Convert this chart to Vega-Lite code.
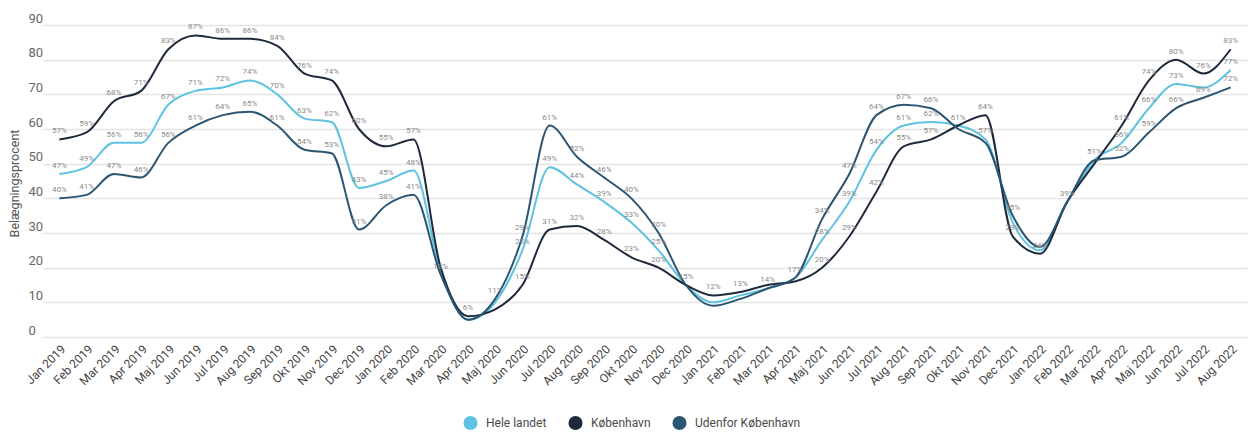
{
  "$schema": "https://vega.github.io/schema/vega-lite/v6.json",
  "width": 1204,
  "height": 312,
  "autosize": "none",
  "padding": {"left": 43, "top": 25, "right": 6, "bottom": 96},
  "config": {
    "view": {"stroke": null},
    "font": "Roboto"
  },
  "data": {
    "values": [
      {"m": "Jan 2019", "Hele landet": 47, "København": 57, "Udenfor København": 40},
      {"m": "Feb 2019", "Hele landet": 49, "København": 59, "Udenfor København": 41},
      {"m": "Mar 2019", "Hele landet": 56, "København": 68, "Udenfor København": 47},
      {"m": "Apr 2019", "Hele landet": 56, "København": 71, "Udenfor København": 46},
      {"m": "Maj 2019", "Hele landet": 67, "København": 83, "Udenfor København": 56},
      {"m": "Jun 2019", "Hele landet": 71, "København": 87, "Udenfor København": 61},
      {"m": "Jul 2019", "Hele landet": 72, "København": 86, "Udenfor København": 64},
      {"m": "Aug 2019", "Hele landet": 74, "København": 86, "Udenfor København": 65},
      {"m": "Sep 2019", "Hele landet": 70, "København": 84, "Udenfor København": 61},
      {"m": "Okt 2019", "Hele landet": 63, "København": 76, "Udenfor København": 54},
      {"m": "Nov 2019", "Hele landet": 62, "København": 74, "Udenfor København": 53},
      {"m": "Dec 2019", "Hele landet": 43, "København": 60, "Udenfor København": 31},
      {"m": "Jan 2020", "Hele landet": 45, "København": 55, "Udenfor København": 38},
      {"m": "Feb 2020", "Hele landet": 48, "København": 57, "Udenfor København": 41},
      {"m": "Mar 2020", "Hele landet": 19, "København": 20, "Udenfor København": 18},
      {"m": "Apr 2020", "Hele landet": 5, "København": 6, "Udenfor København": 5},
      {"m": "Maj 2020", "Hele landet": 10, "København": 8, "Udenfor København": 11},
      {"m": "Jun 2020", "Hele landet": 25, "København": 15, "Udenfor København": 29},
      {"m": "Jul 2020", "Hele landet": 49, "København": 31, "Udenfor København": 61},
      {"m": "Aug 2020", "Hele landet": 44, "København": 32, "Udenfor København": 52},
      {"m": "Sep 2020", "Hele landet": 39, "København": 28, "Udenfor København": 46},
      {"m": "Okt 2020", "Hele landet": 33, "København": 23, "Udenfor København": 40},
      {"m": "Nov 2020", "Hele landet": 25, "København": 20, "Udenfor København": 30},
      {"m": "Dec 2020", "Hele landet": 15, "København": 15, "Udenfor København": 15},
      {"m": "Jan 2021", "Hele landet": 10, "København": 12, "Udenfor København": 9},
      {"m": "Feb 2021", "Hele landet": 12, "København": 13, "Udenfor København": 11},
      {"m": "Mar 2021", "Hele landet": 14, "København": 15, "Udenfor København": 14},
      {"m": "Apr 2021", "Hele landet": 17, "København": 16, "Udenfor København": 17},
      {"m": "Maj 2021", "Hele landet": 28, "København": 20, "Udenfor København": 34},
      {"m": "Jun 2021", "Hele landet": 39, "København": 29, "Udenfor København": 47},
      {"m": "Jul 2021", "Hele landet": 54, "København": 42, "Udenfor København": 64},
      {"m": "Aug 2021", "Hele landet": 61, "København": 55, "Udenfor København": 67},
      {"m": "Sep 2021", "Hele landet": 62, "København": 57, "Udenfor København": 66},
      {"m": "Okt 2021", "Hele landet": 61, "København": 61, "Udenfor København": 60},
      {"m": "Nov 2021", "Hele landet": 57, "København": 64, "Udenfor København": 56},
      {"m": "Dec 2021", "Hele landet": 33, "København": 29, "Udenfor København": 35},
      {"m": "Jan 2022", "Hele landet": 25, "København": 24, "Udenfor København": 26},
      {"m": "Feb 2022", "Hele landet": 39, "København": 39, "Udenfor København": 39},
      {"m": "Mar 2022", "Hele landet": 51, "København": 50, "Udenfor København": 51},
      {"m": "Apr 2022", "Hele landet": 56, "København": 61, "Udenfor København": 52},
      {"m": "Maj 2022", "Hele landet": 66, "København": 74, "Udenfor København": 59},
      {"m": "Jun 2022", "Hele landet": 73, "København": 80, "Udenfor København": 66},
      {"m": "Jul 2022", "Hele landet": 72, "København": 76, "Udenfor København": 69},
      {"m": "Aug 2022", "Hele landet": 77, "København": 83, "Udenfor København": 72}
    ]
  },
  "transform": [
    {"fold": ["Hele landet", "København", "Udenfor København"], "as": ["serie", "pct"]}
  ],
  "encoding": {
    "x": {
      "field": "m",
      "type": "ordinal",
      "sort": null,
      "scale": {"type": "point", "padding": 0.6},
      "axis": {
        "title": null,
        "labelAngle": -45,
        "labelFontSize": 12,
        "labelColor": "#444444",
        "labelPadding": 6,
        "domain": false,
        "ticks": false,
        "grid": false
      }
    },
    "y": {
      "field": "pct",
      "type": "quantitative",
      "scale": {"domain": [0, 90], "nice": false},
      "axis": {
        "values": [0, 10, 20, 30, 40, 50, 60, 70, 80, 90],
        "title": "Belægningsprocent",
        "titleFontSize": 12.5,
        "titleFontWeight": "normal",
        "titleColor": "#555555",
        "titleX": -22,
        "titleY": 158,
        "domain": false,
        "ticks": false,
        "tickSize": 0,
        "labelAlign": "left",
        "labelBaseline": "bottom",
        "labelPadding": 15,
        "labelFontSize": 13,
        "labelColor": "#666666",
        "gridColor": "#e4e4e4",
        "gridWidth": 1.5
      }
    }
  },
  "layer": [
    {
      "mark": {"type": "line", "interpolate": "monotone", "strokeWidth": 2},
      "encoding": {
        "color": {
          "field": "serie",
          "type": "nominal",
          "scale": {
            "domain": ["Hele landet", "København", "Udenfor København"],
            "range": ["#5ec2e2", "#1e2a3c", "#2c5573"]
          },
          "legend": {
            "title": null,
            "orient": "none",
            "legendX": 420,
            "legendY": 390,
            "direction": "horizontal",
            "symbolType": "circle",
            "symbolSize": 50,
            "symbolStrokeWidth": 7,
            "labelFontSize": 12,
            "labelColor": "#4a4a4a",
            "labelOffset": 8,
            "columnPadding": 10
          }
        }
      }
    },
    {
      "transform": [
        {"filter": "indexof(['Mar 2020|Hele landet','Mar 2020|København','Apr 2020|Hele landet','Apr 2020|Udenfor København','Maj 2020|Hele landet','Maj 2020|København','Dec 2020|Hele landet','Dec 2020|Udenfor København','Jan 2021|Hele landet','Jan 2021|Udenfor København','Feb 2021|Hele landet','Feb 2021|Udenfor København','Mar 2021|København','Mar 2021|Udenfor København','Apr 2021|København','Apr 2021|Udenfor København','Okt 2021|København','Okt 2021|Udenfor København','Nov 2021|Udenfor København','Dec 2021|Hele landet','Jan 2022|Hele landet','Jan 2022|Udenfor København','Feb 2022|Hele landet','Feb 2022|Udenfor København','Mar 2022|Hele landet','Mar 2022|København','Jul 2022|Hele landet'], datum.m + '|' + datum.serie) < 0"}
      ],
      "mark": {
        "type": "text",
        "fontSize": 8,
        "color": "#8a8a8a",
        "dy": -8,
        "text": {"expr": "datum.pct + '%'"}
      },
      "encoding": {
        "detail": {"field": "serie", "type": "nominal"}
      }
    }
  ]
}
